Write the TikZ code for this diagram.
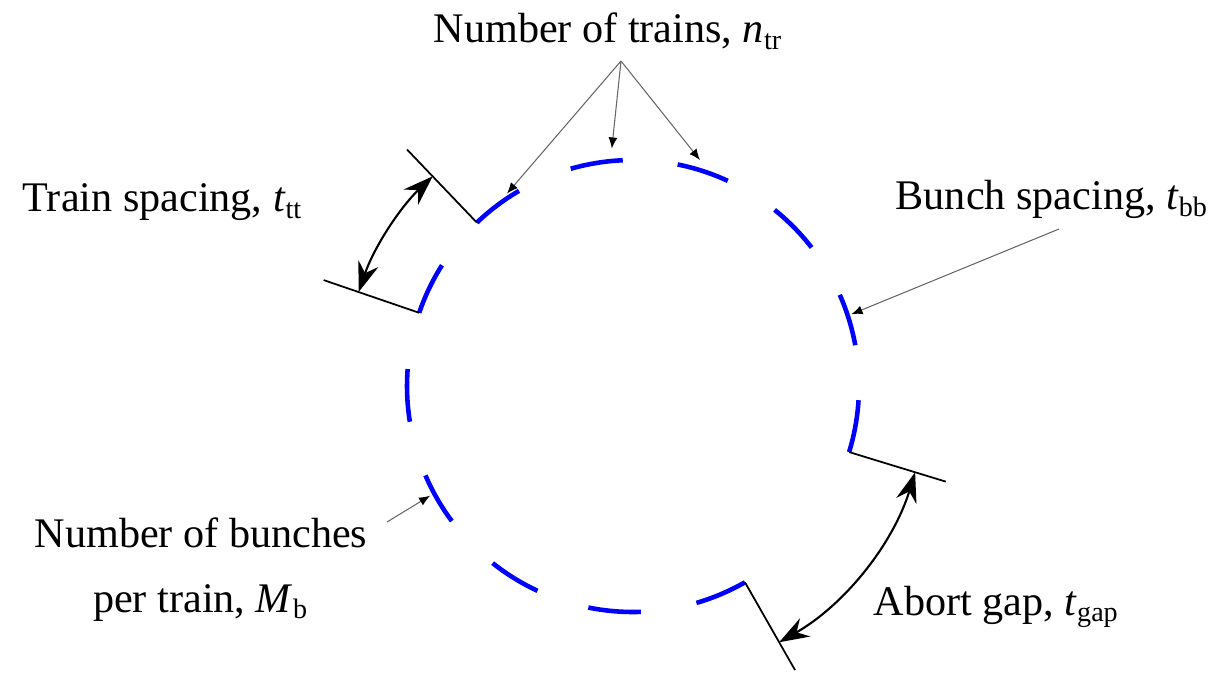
\documentclass[tikz,border=0pt]{standalone}
\usepackage{fontspec}
\setmainfont{Liberation Serif}
\usepackage{tikz}
\usetikzlibrary{arrows.meta,positioning}
\tikzstyle{bunch} = [draw, color=blue, line width=1.3pt]
\tikzstyle{gapline} = [draw, color=black, line width=0.5pt]
\tikzstyle{gaparrow} = [draw, color=black, line width=0.6pt, {Stealth[length=3mm,width=2.1mm,inset=1mm]}-{Stealth[length=3mm,width=2.1mm,inset=1mm]}]
\tikzstyle{pointer} = [draw, color=black!60, line width=0.3pt, -{Latex[length=1.1mm,width=0.9mm,black]}]
\tikzstyle{annot} = [inner sep=0pt, anchor=base west, font=\fontsize{12pt}{18.5pt}\selectfont]
\newcommand{\annot}[2]{node (a#1) [annot] {#2}}

\begin{document}
\begin{tikzpicture}
\useasboundingbox (0,0) rectangle (12.27,-6.73);
\coordinate (c) at (6.33,-3.86);
\foreach \a in {10.4,37.8,65.2,92.6,120.3,147.7,175.7,203.3,231.6,258.6,286.3,343}
  \path[bunch] (c) ++(\a:2.26) arc[start angle=\a, delta angle=13.4, radius=2.26];

\path (c) ++(133.7:2.26) coordinate (g1in);
\path (c) ++(133.7:3.27) coordinate (g1out);
\path (c) ++(161.1:2.26) coordinate (g2in);
\path (c) ++(161.1:3.27) coordinate (g2out);
\path[gapline] (g1in) -- (g1out);
\path[gapline] (g2in) -- (g2out);
\path (c) ++(133.7:2.9) coordinate (s1);
\path[gaparrow] (s1) arc[start angle=133.7, end angle=161.1, radius=2.9];

\path (c) ++(-17:2.26) coordinate (g3in);
\path (c) ++(-17:3.27) coordinate (g3out);
\path (c) ++(-60.3:2.26) coordinate (g4in);
\path (c) ++(-60.3:3.27) coordinate (g4out);
\path[gapline] (g3in) -- (g3out);
\path[gapline] (g4in) -- (g4out);
\path (c) ++(-17:2.95) coordinate (s2);
\path[gaparrow] (s2) arc[start angle=-17, end angle=-60.3, radius=2.95];

\path (4.33,-0.43) \annot{1}{Number of trains, \textit{n}\textsubscript{tr}};
\path (0.22,-2.12) \annot{2}{Train spacing, \textit{t}\textsubscript{tt}};
\path (8.95,-2.10) \annot{3}{Bunch spacing, \textit{t}\textsubscript{bb}};
\path (2.01,-5.17) node (a4) [annot, anchor=north, align=center] {Number of bunches\\per train, \textit{M}\textsubscript{b}};
\path (8.73,-6.15) \annot{5}{Abort gap, \textit{t}\textsubscript{gap}};

\coordinate (ntr) at (6.21,-0.61);
\path (c) ++(123.2:2.30) coordinate (n1);
\path (c) ++(95.1:2.385) coordinate (n2);
\path (c) ++(73.5:2.357) coordinate (n3);
\path[pointer] (ntr) -- (n1);
\path[pointer] (ntr) -- (n2);
\path[pointer] (ntr) -- (n3);

\coordinate (tbb) at (10.59,-2.29);
\path (c) ++(18.2:2.30) coordinate (b1);
\path[pointer] (tbb) -- (b1);

\coordinate (mb) at (3.87,-5.22);
\path (c) ++(208.4:2.307) coordinate (m1);
\path[pointer] (mb) -- (m1);
\end{tikzpicture}
\end{document}
